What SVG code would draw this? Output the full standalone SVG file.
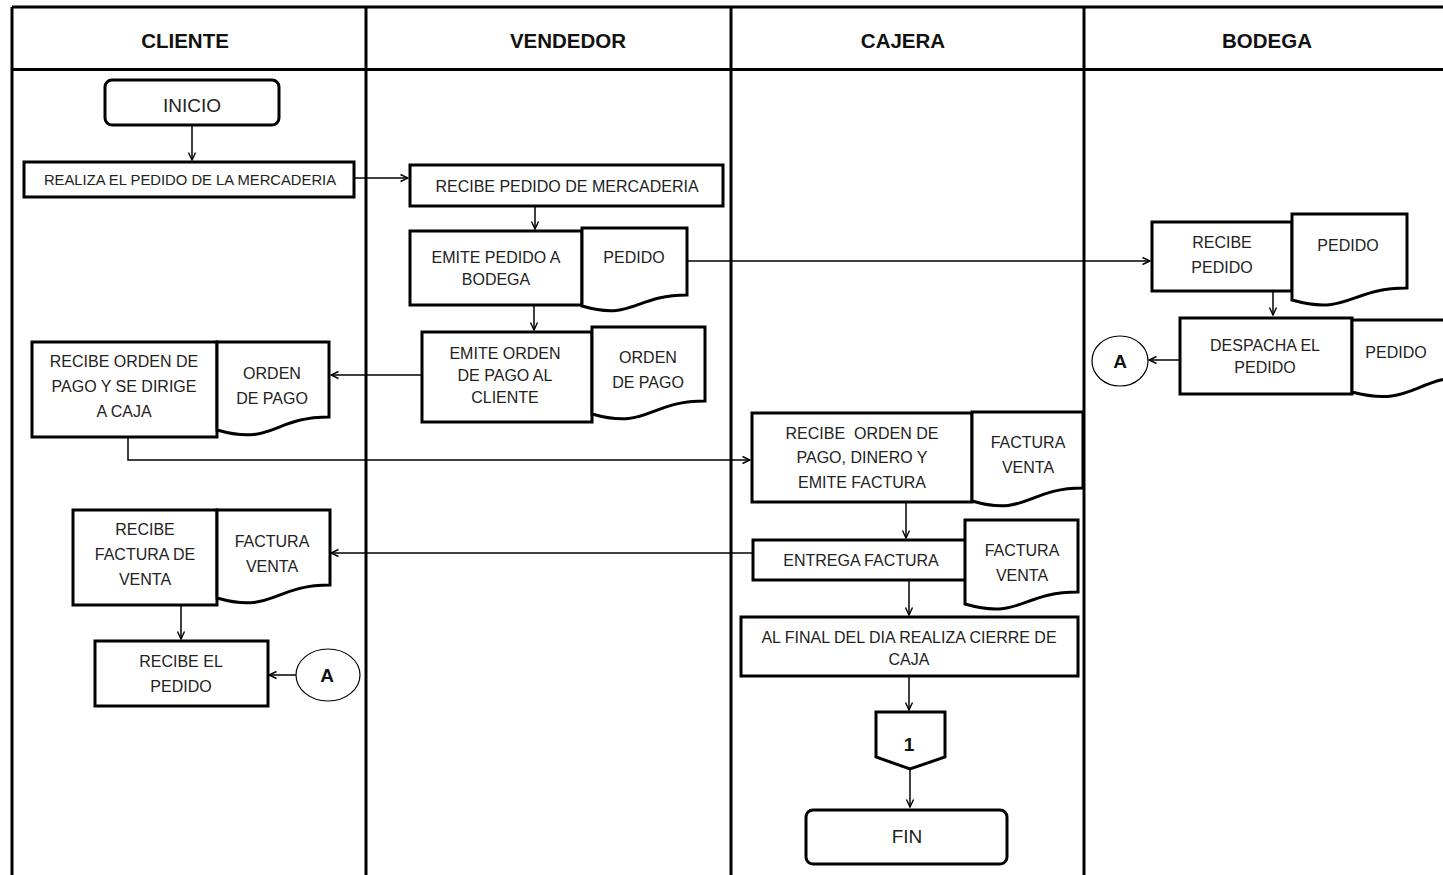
<svg xmlns="http://www.w3.org/2000/svg" width="1443" height="875" viewBox="0 0 1443 875">
  <defs>
    <style>
      .lane { stroke: #000; stroke-width: 3; fill: none; }
      .box { fill: #fff; stroke: #000; stroke-width: 3; }
      .term { fill: #fff; stroke: #000; stroke-width: 3; }
      .con { fill: #fff; stroke: #000; stroke-width: 1.2; }
      .link { fill: none; stroke: #000; stroke-width: 1.5; marker-end: url(#arrow); }
      .hdr { font-family: "Liberation Sans", Arial, sans-serif; font-weight: bold; font-size: 20.5px; fill: #111; text-anchor: middle; }
      .t { font-family: "Liberation Sans", Arial, sans-serif; font-size: 16px; fill: #222; text-anchor: middle; }
      .ts { font-family: "Liberation Sans", Arial, sans-serif; font-size: 14.8px; fill: #222; text-anchor: middle; }
      .tl { font-family: "Liberation Sans", Arial, sans-serif; font-size: 19px; fill: #222; text-anchor: middle; }
      .tb { font-family: "Liberation Sans", Arial, sans-serif; font-weight: bold; font-size: 19px; fill: #111; text-anchor: middle; }
    </style>
    <marker id="arrow" markerWidth="10" markerHeight="10" refX="9" refY="5" orient="auto" markerUnits="userSpaceOnUse">
      <path d="M1.5,1.5 L9,5 L1.5,8.5" fill="none" stroke="#000" stroke-width="1.4"/>
    </marker>
  </defs>
  <rect width="1443" height="875" fill="#fff"/>

  <!-- swimlane frame -->
  <g id="lanes">
    <path class="lane" d="M12,7 H1443 M12,7 V875 M366,7 V875 M731,7 V875 M1084,7 V875"/>
    <path class="lane" stroke-width="2.5" d="M12,69.5 H1443"/>
    <text class="hdr" x="185" y="48">CLIENTE</text>
    <text class="hdr" x="568" y="48">VENDEDOR</text>
    <text class="hdr" x="903" y="48">CAJERA</text>
    <text class="hdr" x="1267" y="48">BODEGA</text>
  </g>

  <!-- connectors -->
  <g id="connectors">
    <path class="link" d="M192,126 V160"/>
    <path class="link" d="M354,178 H408"/>
    <path class="link" d="M535,207 V229"/>
    <path class="link" d="M687,261 H1150"/>
    <path class="link" d="M534,305 V330"/>
    <path class="link" d="M422,375 H331"/>
    <path class="link" d="M128,437 V460 H750"/>
    <path class="link" d="M906,502 V538"/>
    <path class="link" d="M753,553 H331"/>
    <path class="link" d="M181,605 V639"/>
    <path class="link" d="M296,675 H269"/>
    <path class="link" d="M909,580 V615"/>
    <path class="link" d="M909,677 V710"/>
    <path class="link" d="M910,769 V807"/>
    <path class="link" d="M1273,292 V315"/>
    <path class="link" d="M1180,360 H1149"/>
  </g>

  <!-- CLIENTE lane -->
  <g id="inicio">
    <rect class="term" x="105" y="80" width="174" height="45" rx="7"/>
    <text class="tl" x="192" y="112">INICIO</text>
  </g>
  <g id="realiza-pedido">
    <rect class="box" x="24" y="162" width="330" height="35"/>
    <text class="ts" x="190" y="185">REALIZA EL PEDIDO DE LA MERCADERIA</text>
  </g>
  <g id="recibe-orden-pago">
    <rect class="box" x="32" y="342" width="185" height="95"/>
    <text class="t" x="124" y="367">RECIBE ORDEN DE</text>
    <text class="t" x="124" y="392">PAGO Y SE DIRIGE</text>
    <text class="t" x="124" y="417">A CAJA</text>
  </g>
  <g id="doc-orden-pago-cliente">
    <path class="box" d="M217,342 H329 V417 C273,417 273,446 217,430 Z"/>
    <text class="t" x="272" y="379">ORDEN</text>
    <text class="t" x="272" y="404">DE PAGO</text>
  </g>
  <g id="recibe-factura">
    <rect class="box" x="73" y="510" width="144" height="95"/>
    <text class="t" x="145" y="535">RECIBE</text>
    <text class="t" x="145" y="560">FACTURA DE</text>
    <text class="t" x="145" y="585">VENTA</text>
  </g>
  <g id="doc-factura-cliente">
    <path class="box" d="M217,510 H330 V585 C273,585 273,614 217,598 Z"/>
    <text class="t" x="272" y="547">FACTURA</text>
    <text class="t" x="272" y="572">VENTA</text>
  </g>
  <g id="recibe-el-pedido">
    <rect class="box" x="95" y="641" width="173" height="65"/>
    <text class="t" x="181" y="667">RECIBE EL</text>
    <text class="t" x="181" y="692">PEDIDO</text>
  </g>
  <g id="conector-a-cliente">
    <ellipse class="con" cx="328" cy="675" rx="32" ry="26"/>
    <text class="tb" x="327" y="682">A</text>
  </g>

  <!-- VENDEDOR lane -->
  <g id="recibe-pedido-mercaderia">
    <rect class="box" x="410" y="165" width="313" height="41"/>
    <text class="t" x="567" y="192">RECIBE PEDIDO DE MERCADERIA</text>
  </g>
  <g id="emite-pedido">
    <rect class="box" x="410" y="231" width="172" height="74"/>
    <text class="t" x="496" y="263">EMITE PEDIDO A</text>
    <text class="t" x="496" y="285">BODEGA</text>
  </g>
  <g id="doc-pedido-vendedor">
    <path class="box" d="M582,228 H687 V295 C634,295 634,321 582,306 Z"/>
    <text class="t" x="634" y="263">PEDIDO</text>
  </g>
  <g id="emite-orden-pago">
    <rect class="box" x="422" y="332" width="170" height="90"/>
    <text class="t" x="505" y="359">EMITE ORDEN</text>
    <text class="t" x="505" y="381">DE PAGO AL</text>
    <text class="t" x="505" y="403">CLIENTE</text>
  </g>
  <g id="doc-orden-pago-vendedor">
    <path class="box" d="M592,327 H705 V401 C648,401 648,430 592,414 Z"/>
    <text class="t" x="648" y="363">ORDEN</text>
    <text class="t" x="648" y="388">DE PAGO</text>
  </g>

  <!-- CAJERA lane -->
  <g id="recibe-dinero">
    <rect class="box" x="752" y="413" width="220" height="89"/>
    <text class="t" x="862" y="439" xml:space="preserve">RECIBE  ORDEN DE</text>
    <text class="t" x="862" y="463">PAGO, DINERO Y</text>
    <text class="t" x="862" y="488">EMITE FACTURA</text>
  </g>
  <g id="doc-factura-1">
    <path class="box" d="M972,412 H1083 V488 C1027,488 1027,517 972,501 Z"/>
    <text class="t" x="1028" y="448">FACTURA</text>
    <text class="t" x="1028" y="473">VENTA</text>
  </g>
  <g id="entrega-factura">
    <rect class="box" x="753" y="540" width="214" height="40"/>
    <text class="t" x="861" y="566">ENTREGA FACTURA</text>
  </g>
  <g id="doc-factura-2">
    <path class="box" d="M965,520 H1078 V592 C1021,592 1021,620 965,604 Z"/>
    <text class="t" x="1022" y="556">FACTURA</text>
    <text class="t" x="1022" y="581">VENTA</text>
  </g>
  <g id="cierre-caja">
    <rect class="box" x="741" y="617" width="337" height="59"/>
    <text class="t" x="909" y="643">AL FINAL DEL DIA REALIZA CIERRE DE</text>
    <text class="t" x="909" y="665">CAJA</text>
  </g>
  <g id="conector-pagina-1">
    <path class="box" d="M876,712 H945 V757 L910,769 L876,757 Z"/>
    <text class="tb" x="909" y="751" font-size="16">1</text>
  </g>
  <g id="fin">
    <rect class="term" x="806" y="810" width="201" height="54" rx="7"/>
    <text class="tl" x="907" y="843">FIN</text>
  </g>

  <!-- BODEGA lane -->
  <g id="recibe-pedido-bodega">
    <rect class="box" x="1152" y="222" width="140" height="69"/>
    <text class="t" x="1222" y="248">RECIBE</text>
    <text class="t" x="1222" y="273">PEDIDO</text>
  </g>
  <g id="doc-pedido-bodega-1">
    <path class="box" d="M1292,214 H1407 V288 C1349,288 1349,316 1292,300 Z"/>
    <text class="t" x="1348" y="251">PEDIDO</text>
  </g>
  <g id="despacha-pedido">
    <rect class="box" x="1180" y="318" width="172" height="76"/>
    <text class="t" x="1265" y="351">DESPACHA EL</text>
    <text class="t" x="1265" y="373">PEDIDO</text>
  </g>
  <g id="doc-pedido-bodega-2">
    <path class="box" d="M1352,320 H1475 V376 C1413,376 1413,408 1352,392 Z"/>
    <text class="t" x="1396" y="358">PEDIDO</text>
  </g>
  <g id="conector-a-bodega">
    <ellipse class="con" cx="1120" cy="361" rx="28" ry="25"/>
    <text class="tb" x="1120" y="368">A</text>
  </g>
</svg>
